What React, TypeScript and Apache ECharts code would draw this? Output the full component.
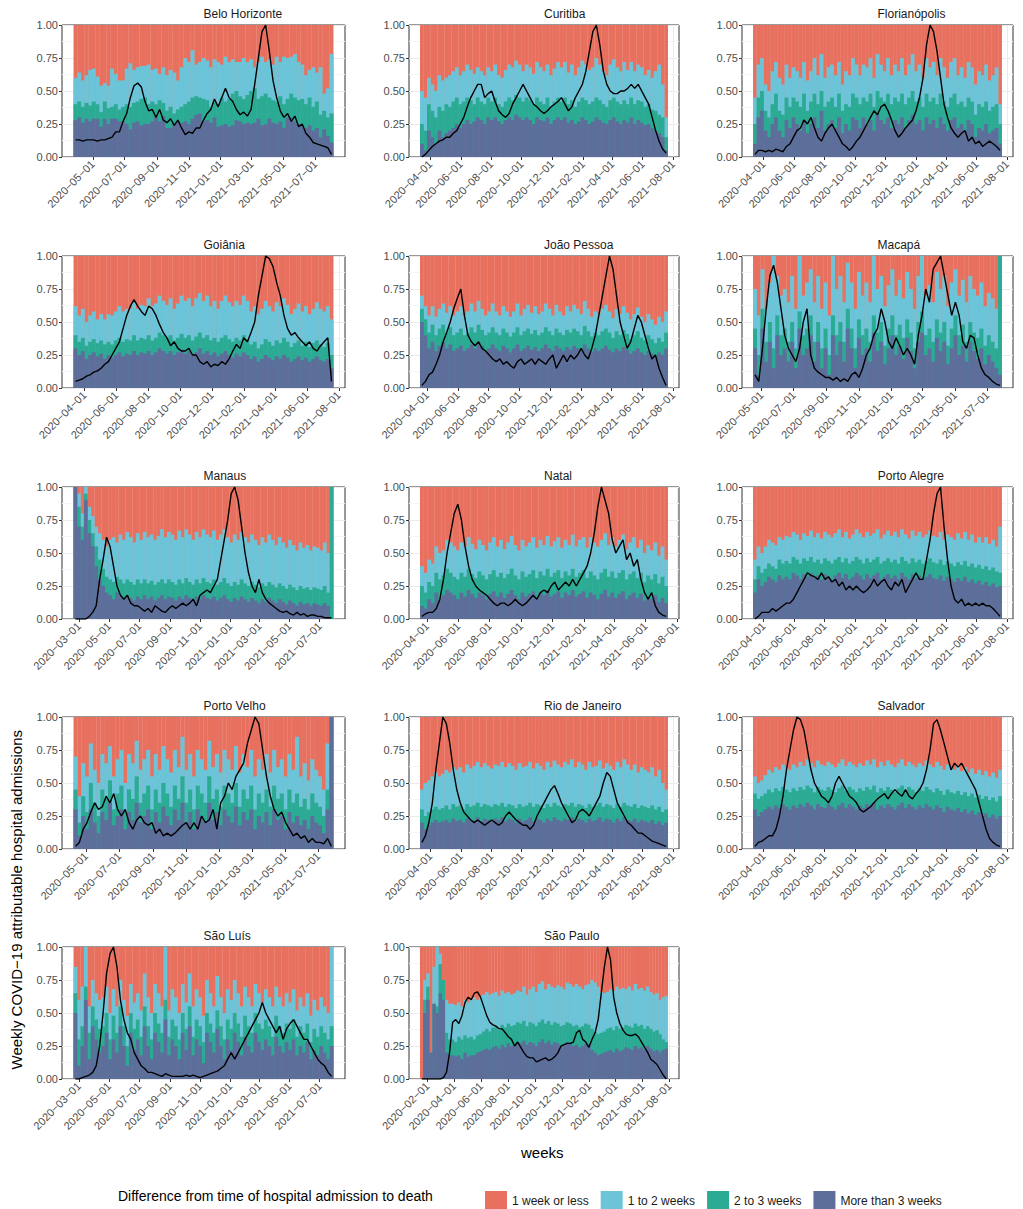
import { useEffect, useRef } from 'react';
import * as echarts from 'echarts';

// Each city: first week, then weekly values in percent.
// B = top of "More than 3 weeks", G = top of "2 to 3 weeks", C = top of "1 to 2 weeks", L = scaled admissions
const CITIES = ['Belo Horizonte', 'Curitiba', 'Florianópolis', 'Goiânia', 'João Pessoa', 'Macapá', 'Manaus', 'Natal', 'Porto Alegre', 'Porto Velho', 'Rio de Janeiro', 'Salvador', 'São Luís', 'São Paulo'];
const STARTS = ['2020-03-29', '2020-03-15', '2020-03-15', '2020-03-15', '2020-03-22', '2020-04-19', '2020-02-23', '2020-03-22', '2020-03-15', '2020-04-12', '2020-03-15', '2020-03-15', '2020-02-23', '2020-01-19'];
const TICK_SET = ['odd', 'even', 'even', 'even', 'even', 'odd', 'odd', 'even', 'even', 'odd', 'even', 'even', 'odd', 'even'];

const ODD_TICKS = ['2020-01-01', '2020-03-01', '2020-05-01', '2020-07-01', '2020-09-01', '2020-11-01', '2021-01-01', '2021-03-01', '2021-05-01', '2021-07-01', '2021-09-01'];
const EVEN_TICKS = ['2020-02-01', '2020-04-01', '2020-06-01', '2020-08-01', '2020-10-01', '2020-12-01', '2021-02-01', '2021-04-01', '2021-06-01', '2021-08-01'];

const L = [
  '13 13 12 13 13 13 12 13 13 14 15 19 19 27 33 45 54 56 53 42 35 36 30 36 28 26 29 24 28 22 17 19 18 22 22 28 33 36 44 38 45 52 45 42 36 32 34 31 36 55 75 95 100 80 58 45 35 30 33 27 31 23 25 18 15 11 10 09 08 07 02',
  '00 02 05 08 10 12 13 15 15 18 20 25 30 38 45 50 55 55 45 48 50 42 35 32 30 33 40 45 50 55 50 45 40 38 35 33 35 38 40 42 45 40 35 38 45 50 55 65 80 95 100 85 65 55 50 48 48 50 50 52 55 52 55 50 45 40 30 20 12 06 03',
  '02 05 05 04 05 04 06 05 04 08 10 15 20 22 28 25 30 22 15 12 18 22 25 20 15 10 08 05 08 12 15 20 25 30 35 32 38 40 35 28 20 15 18 22 25 28 35 45 60 85 100 95 80 60 40 30 22 18 15 18 20 12 15 10 12 08 10 12 10 08 05',
  '05 06 07 09 10 12 13 15 18 20 25 30 35 45 55 62 67 62 58 55 62 60 55 48 42 38 32 35 30 28 28 30 25 25 20 18 20 16 18 17 20 18 22 28 33 30 38 35 42 50 70 85 100 98 92 80 70 55 45 40 42 38 35 32 35 30 28 32 35 38 05',
  '02 05 10 12 18 25 35 42 50 60 68 75 55 40 35 32 35 30 28 25 22 20 22 18 20 17 15 20 22 18 20 22 18 22 20 18 22 25 15 20 25 20 25 22 25 30 25 22 30 40 55 70 85 100 90 70 50 40 30 35 45 55 50 40 30 22 25 15 08 02',
  '10 05 30 60 85 93 80 60 40 30 25 20 30 50 60 25 15 12 10 08 08 06 08 05 07 05 10 12 08 15 25 30 40 45 60 50 35 30 38 32 25 30 25 18 40 55 75 65 90 95 100 85 70 55 65 55 35 30 40 38 25 15 10 08 05 03 02',
  '00 00 00 00 02 05 10 30 45 62 55 40 25 18 15 18 12 10 10 08 06 08 05 10 08 06 05 08 10 08 10 12 10 12 15 10 18 20 22 20 25 30 45 60 75 95 100 90 70 50 35 25 20 30 20 15 12 10 08 06 05 06 04 03 05 03 04 02 03 03 02 02 01 01 01',
  '02 04 05 05 08 15 30 50 65 80 87 75 55 40 30 25 22 20 18 15 12 10 12 12 10 12 15 12 10 12 15 18 15 20 22 20 25 28 22 25 28 25 30 25 30 35 40 50 65 85 100 90 80 60 50 55 60 45 50 40 45 30 20 15 20 10 05 03 02',
  '00 02 05 05 05 08 06 08 10 12 12 15 20 25 30 35 33 32 30 35 30 32 28 30 25 28 22 25 22 25 22 20 22 25 30 25 28 30 25 22 28 25 30 20 25 30 35 30 30 45 60 80 95 100 70 45 25 15 12 15 10 12 10 12 10 12 10 10 08 05 02',
  '02 05 15 20 28 35 30 32 40 35 42 30 25 30 20 15 22 25 20 18 20 12 15 10 12 10 12 15 18 20 15 20 15 25 20 22 30 15 35 40 50 45 55 60 65 80 90 100 95 75 55 40 30 25 28 20 15 10 12 08 10 05 08 05 05 04 08 02',
  '05 10 20 35 60 80 100 95 80 60 45 35 28 25 22 20 22 20 18 20 22 20 18 20 25 28 25 22 20 18 18 15 18 25 30 35 40 45 48 42 35 30 25 20 22 28 30 28 25 30 35 40 50 58 55 45 35 30 25 20 18 15 12 12 10 08 06 05 04 03 02',
  '02 05 06 08 10 10 15 25 40 60 75 90 100 98 90 75 60 50 45 40 38 35 40 50 55 50 45 40 38 35 30 28 30 32 35 38 40 42 38 42 45 42 40 45 40 38 42 45 50 60 75 95 98 90 80 70 60 65 62 65 60 55 50 45 35 25 15 08 05 03 02',
  '00 00 01 02 03 05 10 25 50 80 95 100 85 60 45 35 30 20 15 10 08 05 05 04 03 02 04 03 02 02 02 02 03 02 03 02 01 02 03 04 05 06 08 10 15 20 15 20 25 30 35 40 45 50 58 50 45 40 35 40 30 38 42 45 40 35 30 30 25 20 15 12 10 05 02',
  '00 00 00 00 00 00 00 01 05 20 43 45 42 48 58 62 60 65 66 62 55 48 43 41 40 38 38 35 32 30 25 28 24 20 17 16 16 13 14 15 16 14 15 17 20 25 26 27 27 28 35 37 30 28 24 30 35 45 65 85 100 90 62 50 42 37 34 33 33 34 32 28 24 20 15 13 11 07 03 00',
];

const B = [
  '28 30 26 29 27 29 29 23 29 25 29 29 27 27 25 21 26 27 24 25 25 27 30 27 31 22 22 25 27 26 27 25 29 32 33 27 28 26 30 23 24 25 23 24 28 27 25 26 25 26 29 24 25 29 26 25 27 22 30 30 27 25 24 22 24 20 22 15 21 16 11',
  '10 05 20 15 10 20 15 18 20 22 25 22 25 28 25 27 30 28 25 30 28 30 27 25 28 30 28 32 30 28 30 28 25 30 28 27 30 25 28 30 28 30 26 28 25 27 30 28 25 27 30 28 26 25 28 30 27 25 28 26 30 25 28 26 24 25 22 20 18 15 05',
  '10 30 35 20 15 25 30 20 15 28 22 30 25 20 28 18 25 30 22 35 20 25 28 22 30 18 25 20 30 28 22 30 25 28 20 32 28 25 30 22 28 25 30 22 28 32 25 28 20 30 25 28 22 30 25 20 28 30 22 25 20 28 25 15 22 20 25 18 20 22 10',
  '30 25 28 22 25 27 24 26 22 25 23 25 27 24 26 25 28 25 27 26 28 25 27 30 28 26 28 25 27 29 26 28 25 27 30 26 28 25 27 24 26 28 25 23 26 24 27 25 22 24 20 22 25 23 21 24 22 25 23 20 22 24 21 23 20 22 24 21 20 22 15',
  '50 40 30 35 28 32 35 30 33 28 30 32 28 30 33 30 35 32 28 30 33 30 28 32 30 27 30 33 28 30 32 29 31 28 30 33 30 28 32 30 28 31 29 32 30 28 33 30 27 30 28 30 32 29 27 30 28 31 29 26 28 30 27 25 28 26 24 27 25 30',
  '30 10 45 20 35 15 40 25 30 20 35 15 45 25 30 40 20 35 15 30 10 40 25 35 20 45 30 15 38 25 30 20 42 28 35 18 30 40 25 32 22 38 28 15 35 42 25 30 20 38 28 35 18 30 40 25 32 20 35 28 22 30 18 25 20 15 10',
  '100 70 60 90 65 55 40 30 25 20 18 15 20 17 15 18 16 14 17 15 18 15 17 14 16 18 15 17 16 14 17 15 18 16 14 17 15 18 16 15 17 14 16 18 15 13 16 14 17 15 13 16 14 12 15 13 16 14 12 15 13 11 14 12 10 13 11 12 10 12 11 10 12 10 00',
  '10 08 15 12 20 15 18 22 20 18 15 20 17 22 19 16 20 18 15 19 21 17 20 16 19 22 18 15 20 17 19 21 16 20 18 22 17 19 21 16 20 18 22 17 19 21 16 20 18 15 19 22 17 20 16 19 21 15 18 20 16 19 14 17 15 18 13 16 12',
  '20 30 25 28 32 30 28 33 30 32 30 35 33 30 34 32 35 31 33 30 34 32 30 33 35 31 34 30 32 35 33 30 34 31 33 35 30 32 34 31 33 30 35 32 30 34 31 33 30 32 34 31 30 33 29 32 30 28 31 29 32 28 30 27 29 26 28 25 27 24 25',
  '30 10 25 15 30 20 12 28 22 35 18 25 30 15 28 22 35 20 25 30 15 28 20 32 25 18 30 22 35 20 28 15 30 25 20 35 22 28 18 30 25 20 32 18 28 22 30 15 25 20 28 18 30 22 25 15 28 20 25 18 22 15 25 20 18 12 30 100',
  '20 15 18 20 22 20 21 22 20 23 21 22 20 23 21 22 24 21 23 22 21 23 22 24 21 23 22 20 23 21 22 24 21 23 22 20 23 21 24 22 21 23 22 24 21 23 22 20 23 21 22 24 21 23 22 20 23 21 24 22 21 23 20 22 21 20 22 19 21 18 20',
  '30 25 28 30 32 30 33 31 34 32 30 33 31 34 32 35 33 30 34 32 31 34 32 30 33 35 31 34 32 30 33 31 34 32 35 30 33 31 34 32 30 33 35 31 34 32 30 33 31 34 32 30 33 31 28 32 30 29 31 28 30 27 29 26 28 25 27 24 26 23 25',
  '50 10 25 60 15 40 30 20 25 35 15 30 20 40 25 10 35 22 30 18 40 25 15 35 28 20 45 18 30 25 15 35 22 40 18 30 25 12 35 28 20 38 25 15 30 22 35 28 18 32 25 20 35 28 22 30 25 18 32 25 20 28 22 30 18 25 20 28 15 22 18 25 20 15 25',
  '00 50 60 20 57 50 65 60 20 18 18 17 18 15 20 17 18 18 20 21 22 23 22 24 25 23 26 24 27 25 26 28 27 29 26 28 27 25 28 30 27 29 26 28 27 25 26 28 27 25 26 24 25 27 26 22 20 18 19 20 21 22 20 23 21 22 24 23 22 25 23 24 22 25 23 21 22 20 22 23',
];

const G = [
  '40 42 38 41 39 42 40 34 42 37 38 40 36 38 40 38 41 42 44 45 40 42 40 43 41 35 38 33 36 38 40 42 45 46 45 44 43 38 42 40 45 42 44 48 50 46 44 47 50 52 44 46 48 45 43 42 46 40 44 48 45 43 44 40 45 38 42 32 35 30 33',
  '25 20 40 35 30 38 35 40 38 42 45 40 42 45 43 40 45 42 40 45 42 45 40 38 42 45 43 47 45 42 45 43 40 45 42 40 45 38 42 45 42 45 40 43 38 42 45 43 40 42 45 43 40 38 43 45 42 40 43 40 45 40 43 42 38 40 36 35 32 30 15',
  '25 45 50 35 30 40 48 35 32 45 38 45 42 38 48 35 42 48 40 50 38 42 45 38 48 35 40 38 48 45 40 45 42 48 38 50 45 42 48 40 45 42 48 40 45 50 42 45 38 48 42 45 40 48 42 38 45 48 40 42 38 45 42 32 40 38 42 35 38 40 25',
  '40 35 38 32 35 37 34 36 33 35 33 36 38 35 37 36 40 36 38 37 40 36 38 42 40 38 40 36 38 41 38 40 36 39 42 38 40 36 38 35 38 40 37 35 38 36 40 37 33 35 30 33 37 35 32 36 34 38 35 31 34 36 32 35 31 34 36 33 31 34 25',
  '60 52 42 48 40 45 48 42 46 40 42 45 40 42 46 42 48 44 40 42 46 42 40 45 42 39 42 46 40 43 45 41 44 40 42 46 43 40 45 42 40 44 42 45 43 40 47 43 39 42 40 43 45 42 38 43 40 44 41 37 40 43 38 36 40 37 34 38 35 42',
  '45 25 60 35 50 30 55 40 45 35 50 30 58 40 45 55 35 50 30 45 25 55 40 50 35 60 45 30 52 40 45 35 55 42 50 32 45 55 40 48 38 52 42 30 50 58 40 45 35 52 42 50 32 45 55 40 48 35 50 42 38 45 32 40 35 30 100',
  '100 85 70 95 75 65 55 45 38 32 30 28 32 30 27 30 28 26 30 27 30 27 29 26 28 30 27 30 28 26 30 27 31 28 26 30 27 31 28 27 30 26 28 31 27 25 28 26 30 27 25 28 26 24 27 25 28 26 24 27 25 23 26 24 22 25 23 24 22 24 23 22 25 20 100',
  '25 20 28 25 35 30 33 38 35 32 30 35 32 38 34 31 36 33 30 34 37 32 35 31 34 38 33 30 36 32 34 37 31 36 33 38 32 35 37 31 36 33 38 32 35 37 31 36 33 30 35 38 32 36 31 35 37 30 34 36 31 35 28 33 30 34 27 32 25',
  '30 40 35 38 42 40 38 45 42 44 42 47 45 42 46 44 47 43 45 42 46 44 42 45 47 43 46 42 44 47 45 42 46 43 45 47 42 44 46 43 45 42 47 44 42 46 43 45 42 44 46 43 42 45 41 44 42 40 43 41 44 40 42 39 41 38 40 37 39 36 35',
  '45 20 40 28 50 35 25 45 38 52 30 42 48 28 45 38 55 35 42 48 30 45 35 50 42 32 48 38 55 35 45 30 48 42 35 55 38 45 32 48 42 35 50 32 45 38 48 30 42 35 45 32 48 38 42 30 45 35 42 32 38 30 42 35 32 25 45 100',
  '30 25 28 30 32 30 31 33 30 34 32 33 30 34 32 33 35 32 34 33 32 34 33 35 32 34 33 31 34 32 33 35 32 34 33 31 34 32 35 33 32 34 33 35 32 34 33 31 34 32 33 35 32 34 33 31 34 32 35 33 32 34 31 33 32 31 33 30 32 28 30',
  '42 38 40 42 45 43 46 44 47 45 43 46 44 47 45 48 46 43 47 45 44 47 45 43 46 48 44 47 45 43 46 44 47 45 48 43 46 44 47 45 43 46 48 44 47 45 43 46 44 47 45 43 46 44 41 45 43 42 44 41 43 40 42 39 41 38 40 37 39 36 40',
  '65 30 40 70 35 55 45 38 40 50 30 48 35 55 40 25 50 38 45 32 55 40 30 50 42 35 60 32 45 40 30 50 38 55 32 45 40 28 50 42 35 52 40 30 45 38 50 42 32 48 40 35 50 42 38 45 40 32 48 40 35 42 38 45 32 40 35 42 28 38 32 40 35 30 40',
  '00 60 70 20 57 55 87 75 35 30 30 28 32 30 33 31 32 30 33 34 36 38 36 39 40 37 41 39 42 40 41 43 42 44 40 43 42 40 43 45 42 44 41 43 42 40 41 43 42 40 41 39 40 42 41 38 36 34 35 36 38 39 37 40 38 39 41 40 39 42 40 41 38 40 38 36 37 34 30 28',
];

const C = [
  '60 64 58 62 66 67 61 54 56 54 67 63 58 58 67 71 66 68 69 69 70 66 67 63 68 62 66 64 58 68 75 72 81 70 72 75 73 68 74 72 70 76 72 74 72 72 75 72 74 68 72 76 72 74 70 76 72 76 75 76 78 72 70 62 66 68 64 68 48 52 78',
  '50 45 60 55 50 62 58 60 62 65 68 62 65 70 66 63 68 65 62 68 65 70 62 60 66 70 68 73 70 65 70 68 63 72 68 65 70 62 67 72 68 72 64 70 62 68 73 70 66 68 75 70 65 62 70 74 68 65 72 66 72 65 70 68 62 66 60 65 70 55 30',
  '45 70 75 55 50 65 72 60 55 70 60 68 65 60 72 58 65 75 62 78 60 68 70 62 72 55 65 62 75 70 62 70 68 75 60 78 70 65 75 62 70 65 75 62 70 78 65 70 60 75 68 72 62 75 68 60 72 75 62 68 60 72 68 55 65 62 70 58 62 68 40',
  '62 55 60 50 55 58 52 56 52 56 55 58 62 58 60 60 65 60 63 62 68 62 64 70 66 63 68 60 64 70 66 68 62 68 72 66 70 62 66 60 66 70 65 62 66 63 70 66 58 62 56 60 66 62 58 65 62 68 63 56 60 64 58 62 56 60 65 60 58 62 52',
  '70 62 55 62 54 60 64 57 62 55 58 62 55 58 64 58 66 60 55 58 64 58 55 62 58 54 58 64 55 60 63 57 62 56 58 64 60 55 63 58 55 62 58 63 60 56 66 60 54 58 56 60 63 58 53 60 56 62 57 52 56 61 54 50 56 52 48 54 50 58',
  '75 55 90 60 80 100 85 70 75 65 85 60 100 70 80 90 65 85 60 80 55 100 75 85 65 95 80 60 88 70 80 65 100 75 85 62 78 90 70 82 68 88 75 60 85 100 70 78 65 88 75 85 62 80 90 70 82 65 85 75 70 80 62 72 68 60 100',
  '100 95 80 100 85 78 70 65 60 55 60 62 58 64 60 66 62 58 65 60 66 62 64 60 63 68 62 66 64 60 67 62 68 64 60 66 62 68 64 62 67 60 64 68 62 58 64 60 66 62 58 64 60 56 62 58 64 60 56 62 58 54 60 56 52 58 54 56 52 55 54 52 58 50 100',
  '40 35 45 42 55 50 52 60 58 55 52 58 55 62 57 53 60 56 52 58 62 55 60 53 58 63 56 52 60 55 58 62 54 60 56 63 55 59 62 54 60 56 64 55 60 62 54 62 58 55 60 65 56 62 55 60 64 53 58 62 54 60 50 56 52 58 48 55 45',
  '45 55 50 55 60 58 56 62 60 63 62 66 64 60 65 63 67 62 65 61 66 64 62 65 68 62 66 61 64 68 65 62 66 63 65 68 61 64 67 63 66 62 68 64 61 67 63 66 62 64 67 63 62 66 60 64 62 60 65 61 66 60 64 58 62 58 62 57 60 55 70',
  '70 40 65 55 80 60 50 72 65 78 55 68 75 50 72 65 82 60 68 75 55 72 60 78 68 58 75 62 85 60 72 55 75 68 60 82 62 72 58 75 68 60 78 58 72 62 75 55 68 60 72 58 75 62 68 55 72 60 85 55 65 52 68 60 55 45 80 100',
  '45 50 52 55 58 55 57 60 58 62 60 62 58 64 61 63 66 62 65 63 61 64 63 66 62 65 63 60 65 62 63 66 61 65 63 60 66 62 67 64 62 66 64 68 62 66 64 60 66 62 63 67 61 65 63 60 66 62 68 64 60 64 58 62 60 58 62 55 60 50 45',
  '55 50 52 56 60 58 62 60 64 62 60 64 62 66 63 68 65 62 67 64 63 66 64 62 65 68 63 66 64 62 65 63 67 64 68 62 66 63 67 64 62 65 68 63 66 64 62 65 63 67 64 62 66 63 60 64 62 60 63 59 62 58 61 57 60 56 59 55 58 54 60',
  '85 60 70 100 55 75 65 60 62 70 50 68 55 75 60 48 72 58 65 52 80 62 50 72 65 55 100 52 68 62 50 72 58 80 55 68 62 48 75 65 55 78 62 50 68 60 75 65 55 70 62 55 72 65 58 68 62 55 70 62 55 65 58 68 52 62 55 65 48 60 52 62 55 50 100',
  '00 75 80 20 85 100 95 68 60 57 57 56 58 55 60 58 60 62 60 63 64 66 64 65 66 63 67 65 66 64 65 67 66 70 64 68 70 66 72 74 68 72 70 69 71 70 68 73 72 70 72 70 68 71 72 75 73 70 66 65 66 68 67 70 68 69 68 70 67 72 68 69 67 70 66 64 65 60 62 63',
];

const LEGEND = ['1 week or less', '1 to 2 weeks', '2 to 3 weeks', 'More than 3 weeks'];
const COLORS = ['#E8705F', '#6CC4D8', '#2BAB94', '#5E6E9B'];

const COL_LEFT = [62, 409, 742];
const COL_WIDTH = [283, 270, 271];
const ROW_TOP = [25, 256, 487, 717, 947];
const PANEL_H = 132;
const DAY = 86400000;
const WEEK = 7 * DAY;
const FONT = 'Liberation Sans, Arial, sans-serif';

const nums = (s: string) => s.trim().split(/\s+/).map((v) => Number(v) / 100);
const toTs = (d: string) => {
  const [y, m, dd] = d.split('-').map(Number);
  return Date.UTC(y, m - 1, dd);
};
const fmt = (v: number) => {
  const d = new Date(v);
  const p = (n: number) => String(n).padStart(2, '0');
  return `${d.getUTCFullYear()}\u2212${p(d.getUTCMonth() + 1)}\u2212${p(d.getUTCDate())}`;
};

export default function App() {
  const ref = useRef<HTMLDivElement>(null);

  useEffect(() => {
    document.body.style.margin = '0';
    if (!ref.current) return;
    const chart = echarts.init(ref.current, null, { renderer: 'svg' });

    const grids: any[] = [];
    const xAxes: any[] = [];
    const yAxes: any[] = [];
    const series: any[] = [];
    const titles: any[] = [];

    CITIES.forEach((city, i) => {
      const col = i % 3;
      const row = Math.floor(i / 3);
      const left = COL_LEFT[col];
      const width = COL_WIDTH[col];
      const top = ROW_TOP[row];
      grids.push({ left, top, width, height: PANEL_H, show: true, borderColor: '#333', borderWidth: 1, backgroundColor: '#fff' });

      const line = nums(L[i]);
      const b = nums(B[i]);
      const g = nums(G[i]);
      const c = nums(C[i]);
      const n = line.length;
      const start = toTs(STARTS[i]);
      const at = (arr: number[], k: number) => arr[Math.min(k, arr.length - 1)];
      const ts = Array.from({ length: n }, (_, k) => start + k * WEEK);
      const first = start - WEEK / 2;
      const last = ts[n - 1] + WEEK / 2;
      const pad = (last - first) * 0.045;
      const min = first - pad;
      const max = last + pad;
      const ticks = (TICK_SET[i] === 'odd' ? ODD_TICKS : EVEN_TICKS).map(toTs).filter((t) => t >= min && t <= max);
      const barW = (width * WEEK) / (max - min) + 0.3;

      xAxes.push({
        type: 'value', gridIndex: i, min, max, scale: true,
        axisLine: { show: false },
        axisTick: { show: true, length: 3, lineStyle: { color: '#333' }, customValues: ticks },
        axisLabel: { customValues: ticks, rotate: 45, formatter: (v: number) => fmt(v), color: '#4d4d4d', fontSize: 11, fontFamily: FONT, margin: 5, hideOverlap: false, showMinLabel: true, showMaxLabel: true },
        splitLine: { show: true, lineStyle: { color: '#ebebeb' } },
      });
      yAxes.push({
        type: 'value', gridIndex: i, min: 0, max: 1, interval: 0.25,
        axisLine: { show: false },
        axisTick: { show: true, length: 3, lineStyle: { color: '#333' } },
        axisLabel: { formatter: (v: number) => v.toFixed(2), color: '#4d4d4d', fontSize: 11, fontFamily: FONT, margin: 4 },
        splitLine: { show: true, lineStyle: { color: '#ebebeb' } },
        minorTick: { show: false, splitNumber: 2 },
        minorSplitLine: { show: true, lineStyle: { color: '#f5f5f5' } },
      });

      // overlapping bars, tallest first: each bar top is the cumulative share
      const tops = [
        ts.map((t) => [t, 1]),
        ts.map((t, k) => [t, at(c, k)]),
        ts.map((t, k) => [t, at(g, k)]),
        ts.map((t, k) => [t, at(b, k)]),
      ];
      tops.forEach((data, p) => {
        series.push({
          type: 'bar', name: LEGEND[p], xAxisIndex: i, yAxisIndex: i,
          data, barWidth: barW, barGap: '-100%', itemStyle: { color: COLORS[p] }, silent: true,
        });
      });
      series.push({
        type: 'line', name: 'admissions', xAxisIndex: i, yAxisIndex: i,
        data: ts.map((t, k) => [t, line[k]]), showSymbol: false, symbol: 'none',
        lineStyle: { color: '#000', width: 1.4 }, z: 5,
      });

      titles.push({
        type: 'text', left: left + width / 2, top: top - 17,
        style: { text: city, fill: '#1a1a1a', fontSize: 12, fontFamily: FONT, textAlign: 'center' },
      });
    });

    chart.setOption({
      animation: false,
      textStyle: { fontFamily: FONT },
      grid: grids,
      xAxis: xAxes,
      yAxis: yAxes,
      series,
      legend: {
        data: LEGEND, left: 480, top: 1186, itemWidth: 22, itemHeight: 20, itemGap: 12,
        icon: 'rect', textStyle: { color: '#1a1a1a', fontSize: 12, fontFamily: FONT },
        selectedMode: false,
      },
      graphic: [
        ...titles,
        { type: 'text', left: 118, top: 1189, style: { text: 'Difference from time of hospital admission to death', fill: '#000', fontSize: 14, fontFamily: FONT } },
        { type: 'text', left: 521, top: 1145, style: { text: 'weeks', fill: '#000', fontSize: 15, fontFamily: FONT } },
        { type: 'text', left: 9, top: 730, rotation: Math.PI / 2, style: { text: 'Weekly COVID\u221219 attributable hospital admissions', fill: '#000', fontSize: 15, fontFamily: FONT } },
      ],
    });

    return () => chart.dispose();
  }, []);

  return <div ref={ref} style={{ width: 1023, height: 1209 }} />;
}
